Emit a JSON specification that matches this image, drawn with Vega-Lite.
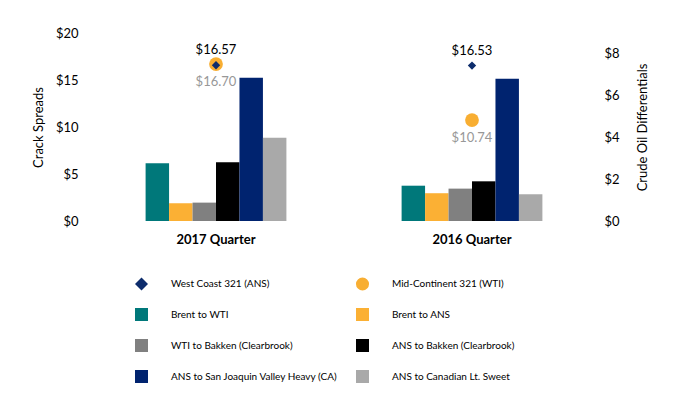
{
  "$schema": "https://vega.github.io/schema/vega-lite/v6.json",
  "autosize": {"type": "none"},
  "padding": {"left": 88, "top": 33, "right": 84, "bottom": 176},
  "width": 512,
  "height": 188,
  "config": {
    "font": "Lato",
    "view": {"stroke": null},
    "axis": {"labelFont": "Lato", "titleFont": "Lato", "labelColor": "#000", "titleColor": "#000", "labelFontSize": 13, "titleFontSize": 13, "titleFontWeight": "normal", "domain": false, "ticks": false, "grid": false},
    "legend": {"labelFont": "Lato", "labelFontSize": 10, "labelColor": "#000"}
  },
  "data": {
    "values": [
      {"quarter": "2017 Quarter", "series": "Brent to WTI", "type": "bar", "value": 2.76},
      {"quarter": "2017 Quarter", "series": "Brent to ANS", "type": "bar", "value": 0.85},
      {"quarter": "2017 Quarter", "series": "WTI to Bakken (Clearbrook)", "type": "bar", "value": 0.88},
      {"quarter": "2017 Quarter", "series": "ANS to Bakken (Clearbrook)", "type": "bar", "value": 2.81},
      {"quarter": "2017 Quarter", "series": "ANS to San Joaquin Valley Heavy (CA)", "type": "bar", "value": 6.86},
      {"quarter": "2017 Quarter", "series": "ANS to Canadian Lt. Sweet", "type": "bar", "value": 3.99},
      {"quarter": "2016 Quarter", "series": "Brent to WTI", "type": "bar", "value": 1.69},
      {"quarter": "2016 Quarter", "series": "Brent to ANS", "type": "bar", "value": 1.33},
      {"quarter": "2016 Quarter", "series": "WTI to Bakken (Clearbrook)", "type": "bar", "value": 1.55},
      {"quarter": "2016 Quarter", "series": "ANS to Bakken (Clearbrook)", "type": "bar", "value": 1.90},
      {"quarter": "2016 Quarter", "series": "ANS to San Joaquin Valley Heavy (CA)", "type": "bar", "value": 6.81},
      {"quarter": "2016 Quarter", "series": "ANS to Canadian Lt. Sweet", "type": "bar", "value": 1.28},
      {"quarter": "2017 Quarter", "series": "Mid-Continent 321 (WTI)", "type": "point", "value": 16.70, "label": "$16.70"},
      {"quarter": "2016 Quarter", "series": "Mid-Continent 321 (WTI)", "type": "point", "value": 10.74, "label": "$10.74"},
      {"quarter": "2017 Quarter", "series": "West Coast 321 (ANS)", "type": "point", "value": 16.57, "label": "$16.57"},
      {"quarter": "2016 Quarter", "series": "West Coast 321 (ANS)", "type": "point", "value": 16.53, "label": "$16.53"}
    ]
  },
  "encoding": {
    "x": {"field": "quarter", "type": "nominal", "sort": ["2017 Quarter", "2016 Quarter"],
      "scale": {"paddingInner": 0.45, "paddingOuter": 0.225},
      "axis": {"title": null, "labelAngle": 0, "labelFontWeight": "bold", "labelPadding": 12, "labelFontSize": 13}}
  },
  "layer": [
    {
      "transform": [{"filter": "datum.type === 'bar'"}],
      "mark": {"type": "bar"},
      "encoding": {
        "xOffset": {"field": "series", "type": "nominal", "scale": {"domain": ["Brent to WTI", "Brent to ANS", "WTI to Bakken (Clearbrook)", "ANS to Bakken (Clearbrook)", "ANS to San Joaquin Valley Heavy (CA)", "ANS to Canadian Lt. Sweet"], "paddingInner": 0, "paddingOuter": 0}},
        "y": {"field": "value", "type": "quantitative", "scale": {"domain": [0, 9], "nice": false},
          "axis": {"orient": "right", "title": "Crude Oil Differentials", "titleAngle": -90, "values": [0, 2, 4, 6, 8], "format": "$.0f", "labelPadding": 4, "titlePadding": 30}},
        "color": {"field": "series", "type": "nominal",
          "scale": {"domain": ["West Coast 321 (ANS)", "Mid-Continent 321 (WTI)", "Brent to WTI", "Brent to ANS", "WTI to Bakken (Clearbrook)", "ANS to Bakken (Clearbrook)", "ANS to San Joaquin Valley Heavy (CA)", "ANS to Canadian Lt. Sweet"],
            "range": ["#0D2C6C", "#F8AE32", "#00787A", "#FBB034", "#808080", "#000000", "#00236F", "#A9A9A9"]},
          "legend": {"title": null, "orient": "none", "direction": "horizontal", "legendX": 46, "legendY": 243, "columns": 2, "columnPadding": 17, "rowPadding": 16, "symbolSize": 170, "labelOffset": 22, "labelLimit": 400, "padding": 0}}
      }
    },
    {
      "transform": [{"filter": "datum.series === 'Mid-Continent 321 (WTI)'"}],
      "mark": {"type": "point", "filled": true, "opacity": 1, "size": 190},
      "encoding": {
        "y": {"field": "value", "type": "quantitative", "scale": {"domain": [0, 20], "nice": false},
          "axis": {"orient": "left", "title": "Crack Spreads", "values": [0, 5, 10, 15, 20], "format": "$.0f", "labelPadding": 10, "titlePadding": 10}},
        "color": {"field": "series", "type": "nominal"},
        "shape": {"field": "series", "type": "nominal",
          "scale": {"domain": ["West Coast 321 (ANS)", "Mid-Continent 321 (WTI)", "Brent to WTI", "Brent to ANS", "WTI to Bakken (Clearbrook)", "ANS to Bakken (Clearbrook)", "ANS to San Joaquin Valley Heavy (CA)", "ANS to Canadian Lt. Sweet"],
            "range": ["diamond", "circle", "square", "square", "square", "square", "square", "square"]}}
      }
    },
    {
      "transform": [{"filter": "datum.series === 'West Coast 321 (ANS)'"}],
      "mark": {"type": "point", "filled": true, "opacity": 1, "size": 70},
      "encoding": {
        "y": {"field": "value", "type": "quantitative", "scale": {"domain": [0, 20], "nice": false}, "axis": null},
        "color": {"field": "series", "type": "nominal"},
        "shape": {"field": "series", "type": "nominal"}
      }
    },
    {
      "transform": [{"filter": "datum.series === 'West Coast 321 (ANS)'"}],
      "mark": {"type": "text", "dy": -15, "fontSize": 13, "color": "#000"},
      "encoding": {
        "y": {"field": "value", "type": "quantitative", "scale": {"domain": [0, 20], "nice": false}, "axis": null},
        "text": {"field": "label"}
      }
    },
    {
      "transform": [{"filter": "datum.series === 'Mid-Continent 321 (WTI)'"}],
      "mark": {"type": "text", "dy": 18, "fontSize": 13, "color": "#989898"},
      "encoding": {
        "y": {"field": "value", "type": "quantitative", "scale": {"domain": [0, 20], "nice": false}, "axis": null},
        "text": {"field": "label"}
      }
    }
  ],
  "resolve": {"scale": {"y": "independent"}}
}
